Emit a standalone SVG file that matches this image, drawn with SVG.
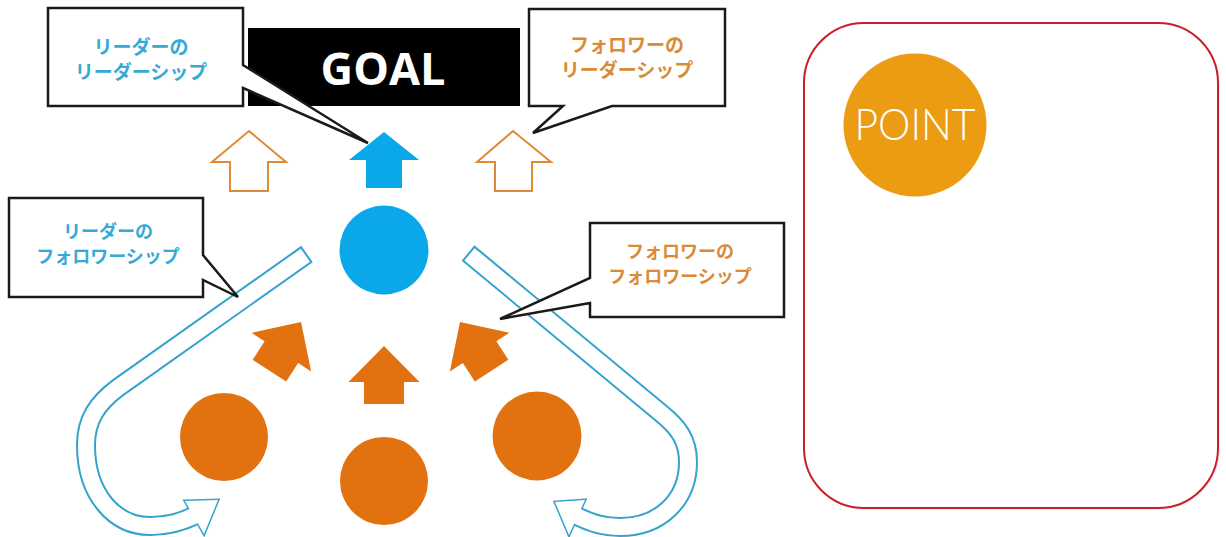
<svg xmlns="http://www.w3.org/2000/svg" width="1226" height="537" viewBox="0 0 1226 537">
<style>
.callout{fill:#fff;stroke:#1a1a1a;stroke-width:2.5;stroke-linejoin:miter}
.jp{font-family:"Noto Sans CJK JP","Noto Sans",sans-serif;font-weight:700;text-anchor:middle}
.big{font-size:19px}
.mid{font-size:18px}
.blue{fill:#36a9d8}
.orng{fill:#d98b35}
.bandOut{fill:none;stroke:#35a3cc;stroke-width:20;stroke-linejoin:round}
.bandIn{fill:none;stroke:#fff;stroke-width:16;stroke-linejoin:round}
.headOut{fill:none;stroke:#35a3cc;stroke-width:3;stroke-linejoin:miter}
.headIn{fill:#fff}
.solidO{fill:#e2720f}
.outlineO{fill:#fff;stroke:#e08a35;stroke-width:2}
</style>
<rect width="1226" height="537" fill="#fff"/>

<g id="goal">
<rect x="248" y="28" width="272" height="78" fill="#000"/>
<text x="383" y="85" font-family="'Open Sans','Liberation Sans',sans-serif" font-weight="700" font-size="45" fill="#fff" text-anchor="middle">GOAL</text>
</g>

<g id="up-arrow-left">
<polygon class="outlineO" points="249,131 286,162 268,162 268,191 230,191 230,162 212,162"/>
</g>
<g id="up-arrow-center">
<polygon fill="#0aa8e8" points="384,132 419,160 402,160 402,188 366,188 366,160 349,160"/>
</g>
<g id="up-arrow-right">
<polygon class="outlineO" points="513,131 551,162 532,162 532,191 495,191 495,162 477,162"/>
</g>

<g id="leader">
<circle cx="384" cy="250" r="44.5" fill="#0aa8e8"/>
</g>

<g id="follower-left"><circle cx="224" cy="437" r="44" class="solidO"/></g>
<g id="follower-center"><circle cx="384" cy="481" r="44" class="solidO"/></g>
<g id="follower-right"><circle cx="537" cy="436" r="44.5" class="solidO"/></g>

<g id="connectors">
<polygon class="solidO" points="0,0 35.5,36 20,36 20,58 -20,58 -20,36 -35.5,36" transform="translate(384,346)"/>
<polygon class="solidO" points="0,0 35.5,36 20,36 20,58 -20,58 -20,36 -35.5,36" transform="translate(301,322) rotate(33)"/>
<polygon class="solidO" points="0,0 35.5,36 20,36 20,58 -20,58 -20,36 -35.5,36" transform="translate(460,322) rotate(-33)"/>

<g id="band-left">
<path class="bandOut" d="M307,254 L119,387 C97,403 86,420 86,445 C86,495 115,526 150,526 C168,526 182,522 196,515"/>
<polygon class="headOut" points="185,501 218,500 204,534"/>
<path class="bandIn" d="M305.4,255.2 L119,387 C97,403 86,420 86,445 C86,495 115,526 150,526 C168,526 182,522 200,513"/>
<polygon class="headIn" points="185,501 218,500 204,534"/>
</g>
<g id="band-right">
<path class="bandOut" d="M468,253 L662,414 C678,427 688,440 688,462 C688,500 660,527 620,527 C603,527 590,523 577,516"/>
<polygon class="headOut" points="585,500 555,502 569,535"/>
<path class="bandIn" d="M469.5,254.3 L662,414 C678,427 688,440 688,462 C688,500 660,527 620,527 C603,527 590,523 573,514"/>
<polygon class="headIn" points="585,500 555,502 569,535"/>
</g>
</g>

<g id="callout-leader-leadership">
<path class="callout" d="M48,8 H243 V65 L368,143 L243,88 V106 H48 Z"/>
<text class="jp big blue" x="141" y="54">リーダーの</text>
<text class="jp big blue" x="141" y="79">リーダーシップ</text>
</g>

<g id="callout-follower-leadership">
<path class="callout" d="M529,9 H725 V106 H612 L533,133 L563,106 H529 Z"/>
<text class="jp big orng" x="627" y="52">フォロワーの</text>
<text class="jp big orng" x="627" y="77">リーダーシップ</text>
</g>

<g id="callout-leader-followership">
<path class="callout" d="M9,198 H203 V255 L238,297 L203,280 V297 H9 Z"/>
<text class="jp mid blue" x="108" y="238">リーダーの</text>
<text class="jp mid blue" x="108" y="263">フォロワーシップ</text>
</g>

<g id="callout-follower-followership">
<path class="callout" d="M590,223 H784 V317 H590 V303 L500,319 L590,278 Z"/>
<text class="jp mid orng" x="680" y="258">フォロワーの</text>
<text class="jp mid orng" x="680" y="283">フォロワーシップ</text>
</g>

<g id="point-panel">
<rect x="806" y="25" width="414" height="485" rx="60" fill="#e6e6e6" opacity="0.6"/>
<rect x="804" y="23" width="414" height="485" rx="60" fill="#fff" stroke="#c8202a" stroke-width="2"/>
<circle cx="915" cy="125" r="71.5" fill="#eb9c12"/>
<text x="915" y="140" font-family="Lato,'Liberation Sans',sans-serif" font-weight="300" font-size="44" fill="#fff" text-anchor="middle" textLength="121" lengthAdjust="spacingAndGlyphs">POINT</text>
</g>
</svg>
